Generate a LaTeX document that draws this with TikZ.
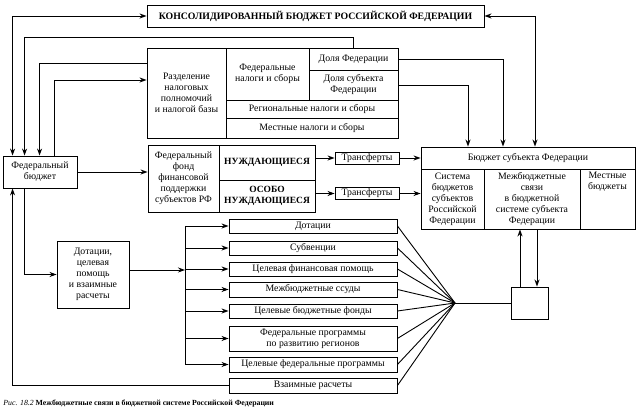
\documentclass[tikz,border=0pt]{standalone}
\usepackage{fontspec}
\setmainfont{Liberation Serif}
\usetikzlibrary{arrows.meta}
\begin{document}
\begin{tikzpicture}[x=1pt, y=-1pt, line width=0.9pt,
  >={Stealth[length=7pt,width=5pt]},
  box/.style={draw, inner sep=0pt, align=center, font=\fontsize{9.8}{11}\selectfont},
  sz/.style 2 args={minimum width=#1, minimum height=#2}]
  \useasboundingbox (0,0) rectangle (641,411);

  % Consolidated budget
  \node[box, sz={337}{22}, font=\bfseries\fontsize{9.8}{11}\selectfont] (cons) at (315.5,16)
    {КОНСОЛИДИРОВАННЫЙ БЮДЖЕТ РОССИЙСКОЙ ФЕДЕРАЦИИ};

  % Tax split block
  \node[box, sz={79}{90}] (razd) at (186.5,93) {Разделение\\налоговых\\полномочий\\и налогой базы};
  \node[box, sz={83}{52}] (fedtax) at (267.5,74) {Федеральные\\налоги и сборы};
  \node[box, sz={89}{22}] (dolyaF) at (353.5,59) {Доля Федерации};
  \node[box, sz={89}{30}] (dolyaS) at (353.5,85) {Доля субъекта\\Федерации};
  \node[box, sz={172}{18}] (regtax) at (312,109) {Региональные налоги и сборы};
  \node[box, sz={172}{20}] (loctax) at (312,128) {Местные налоги и сборы};

  % Federal budget and support fund
  \node[box, sz={74}{32}] (fedbud) at (40,172) {Федеральный\\бюджет};
  \node[box, sz={71}{67}] (fund) at (183.5,178.5) {Федеральный\\фонд\\финансовой\\поддержки\\субъектов РФ};
  \node[box, sz={96}{35}, font=\bfseries\fontsize{9.5}{11}\selectfont] (need) at (267,162.5) {НУЖДАЮЩИЕСЯ};
  \node[box, sz={96}{32}, font=\bfseries\fontsize{9.5}{11}\selectfont] (vneed) at (267,196) {ОСОБО\\НУЖДАЮЩИЕСЯ};
  \node[box, sz={64}{12}] (trA) at (367,158) {Трансферты};
  \node[box, sz={64}{12}] (trB) at (367,193.5) {Трансферты};

  % Budget of the subject
  \node[box, sz={214}{22}] (subj) at (528,158) {Бюджет субъекта Федерации};
  \node[box, sz={63}{60}] (sys) at (452.5,199) {Система\\бюджетов\\субъектов\\Российской\\Федерации};
  \node[box, sz={96}{60}] (mbs) at (532,199) {Межбюджетные\\связи\\в бюджетной\\системе субъекта\\Федерации};
  \node[box, sz={55}{60}, label={[box, draw=none, anchor=north, yshift=-3pt]north:Местные\\бюджеты}] (loc) at (607.5,199) {};

  % Transfers list
  \node[box, sz={72}{67}] (dot) at (93,274.5) {Дотации,\\целевая\\помощь\\и взаимные\\расчеты};
  \node[box, sz={168}{14}] (l1) at (313,226) {Дотации};
  \node[box, sz={168}{14}] (l2) at (313,248) {Субвенции};
  \node[box, sz={168}{14}] (l3) at (313,269) {Целевая финансовая помощь};
  \node[box, sz={168}{15}] (l4) at (313,289.5) {Межбюджетные ссуды};
  \node[box, sz={168}{14}] (l5) at (313,311) {Целевые бюджетные фонды};
  \node[box, sz={168}{25}] (l6) at (313,338.5) {Федеральные программы\\по развитию регионов};
  \node[box, sz={168}{15}] (l7) at (313,364.5) {Целевые федеральные программы};
  \node[box, sz={168}{15}] (l8) at (313,385.5) {Взаимные расчеты};
  \coordinate (bus) at (185,270);
  \coordinate (hub) at (455,303);
  \node[box, sz={37}{32}] (small) at (529.5,303) {};

  % Links of the federal budget
  \draw[<->] ([xshift=10pt]fedbud.north west) |- (cons.west);
  \draw[->] (dolyaF.north) -- ++(0,-10) -| ([xshift=22pt]fedbud.north west);
  \draw[->] ([yshift=30pt]razd.west) -| ([xshift=37pt]fedbud.north west);
  \draw[->] ([xshift=52pt]fedbud.north west) |- ([yshift=13pt]razd.west);
  \draw[->] (fedbud.east) -- (fedbud.east -| fund.west);
  \draw[->] ([xshift=22pt]fedbud.south west) |- (dot.west);
  \draw[->] (l8.west) -| ([xshift=10pt]fedbud.south west);

  % Links of the subject budget
  \draw[->] (dolyaF.east) -| ([xshift=-25pt]subj.north);
  \draw[->] (dolyaS.east) -| ([xshift=-60pt]subj.north);
  \draw[<->] ([xshift=7pt]subj.north) |- (cons.east);
  \draw[->] (trA.west -| need.east) -- (trA.west);
  \draw[->] (trB.west -| vneed.east) -- (trB.west);
  \draw[->] (trA.east) -- (trA.east -| subj.west);
  \draw[->] (trB.east) -- (trB.east -| sys.west);

  % Bus and fan
  \draw[->] (dot.east |- bus) -- (bus);
  \draw (bus |- l1) -- (bus |- l7);
  \foreach \i in {1,...,7}
    \draw[->] (bus |- l\i) -- (l\i.west);
  \foreach \i in {1,...,8}
    \draw (l\i.east) -- (hub);
  \draw (hub) -- (small.west);
  \draw[->] ([xshift=-9.5pt]small.north) -- ([xshift=-9.5pt]small.north |- mbs.south);
  \draw[->] ([xshift=7.5pt]small.north |- mbs.south) -- ([xshift=7.5pt]small.north);

  % Caption
  \node[anchor=west, inner sep=0pt, font=\bfseries\fontsize{7.8}{9}\selectfont] (capt) at (3,404)
    {\textit{\mdseries Рис. 18.2} Межбюджетные связи в бюджетной системе Российской Федерации};
\end{tikzpicture}
\end{document}
